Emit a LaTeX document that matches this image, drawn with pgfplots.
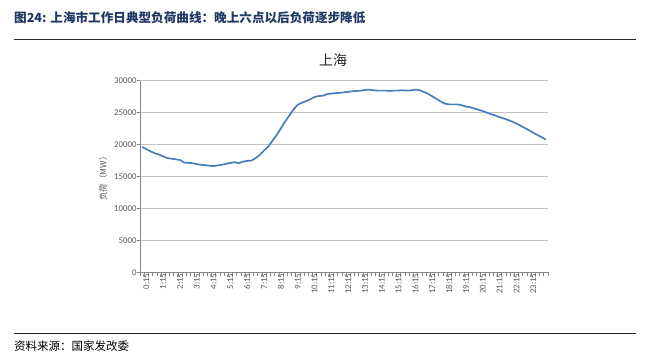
\documentclass[border=0pt]{standalone}
\usepackage{pgfplots}
\pgfplotsset{compat=1.18}
\usepackage{fontspec}
\setmainfont{Carlito}
\newfontfamily\cjk{Noto Sans CJK SC}
\definecolor{titleblue}{RGB}{31,56,100}
\definecolor{linecol}{RGB}{74,126,187}
\definecolor{gridcol}{RGB}{195,195,195}
\definecolor{axcol}{RGB}{134,134,134}
\definecolor{labcol}{RGB}{89,89,89}
\begin{document}
\begin{tikzpicture}
\path[use as bounding box] (0pt,0pt) rectangle (652pt,363pt);
\node[anchor=base west, text=titleblue, font=\cjk\bfseries\fontsize{12.6}{14}\selectfont, inner sep=0pt] at (14pt,340pt) {图24: 上海市工作日典型负荷曲线：晚上六点以后负荷逐步降低};
\draw[line width=0.9pt, black!85] (14pt,324pt) -- (636pt,324pt);
\draw[line width=0.9pt, black!85] (14pt,30pt) -- (636pt,30pt);
\node[anchor=base west, font=\cjk\fontsize{11.5}{13}\selectfont, inner sep=0pt] at (14pt,12pt) {资料来源：国家发改委};
\node[font=\cjk\fontsize{14}{16}\selectfont, text=black!85] at (333pt,303pt) {上海};
\begin{axis}[
  at={(140pt,90.5pt)}, anchor=south west,
  scale only axis, width=408pt, height=191.8pt,
  xmin=-0.5, xmax=96.5, ymin=0, ymax=30000,
  axis x line*=bottom, axis y line*=left,
  axis line style={axcol, line width=0.7pt, -},
  ytick={0,5000,...,30000},
  minor ytick={0,5000,...,30000},
  scaled y ticks=false,
  ymajorgrids=true, xmajorgrids=false,
  grid style={gridcol, line width=0.8pt},
  xtick={1,5,9,13,17,21,25,29,33,37,41,45,49,53,57,61,65,69,73,77,81,85,89,93},
  xticklabels={0:15,1:15,2:15,3:15,4:15,5:15,6:15,7:15,8:15,9:15,10:15,11:15,12:15,13:15,14:15,15:15,16:15,17:15,18:15,19:15,20:15,21:15,22:15,23:15},
  minor xtick={-0.5,0.5,...,96.5},
  xticklabel style={rotate=90, anchor=east, font=\fontsize{8.8}{10}\selectfont, text=labcol, inner sep=1pt},
  tick align=outside, major tick length=0pt, minor tick length=3.5pt,
  tick style={axcol, line width=0.6pt},
  yticklabel style={font=\fontsize{8.8}{10}\selectfont, text=labcol},
  yticklabel={\pgfmathprintnumber[assume math mode=true,set thousands separator={},fixed,precision=0]{\tick}},
  ylabel={\cjk 负荷（MW）},
  ylabel style={font=\fontsize{8.5}{10}\selectfont, text=labcol},
  clip=false,
]
\addplot[linecol, line width=1.7pt, mark=none] coordinates {
(0,19650)(1,19300)(2,18950)(3,18650)(4,18450)(5,18150)(6,17900)(7,17800)(8,17700)(9,17600)
(10,17200)(11,17150)(12,17100)(13,16950)(14,16850)(15,16800)(16,16700)(17,16650)(18,16750)(19,16850)
(20,17000)(21,17150)(22,17250)(23,17100)(24,17350)(25,17450)(26,17500)(27,17900)(28,18400)(29,19100)
(30,19700)(31,20600)(32,21500)(33,22550)(34,23600)(35,24550)(36,25500)(37,26250)(38,26550)(39,26800)
(40,27100)(41,27450)(42,27600)(43,27650)(44,27900)(45,28000)(46,28050)(47,28100)(48,28180)(49,28250)
(50,28350)(51,28400)(52,28450)(53,28550)(54,28600)(55,28500)(56,28450)(57,28450)(58,28450)(59,28400)
(60,28450)(61,28450)(62,28500)(63,28450)(64,28500)(65,28600)(66,28500)(67,28250)(68,27950)(69,27550)
(70,27150)(71,26750)(72,26400)(73,26300)(74,26300)(75,26300)(76,26150)(77,25950)(78,25850)(79,25650)
(80,25450)(81,25250)(82,25000)(83,24750)(84,24550)(85,24300)(86,24100)(87,23850)(88,23600)(89,23300)
(90,22950)(91,22600)(92,22250)(93,21850)(94,21500)(95,21150)(96,20800)
};
\end{axis}
\end{tikzpicture}
\end{document}
